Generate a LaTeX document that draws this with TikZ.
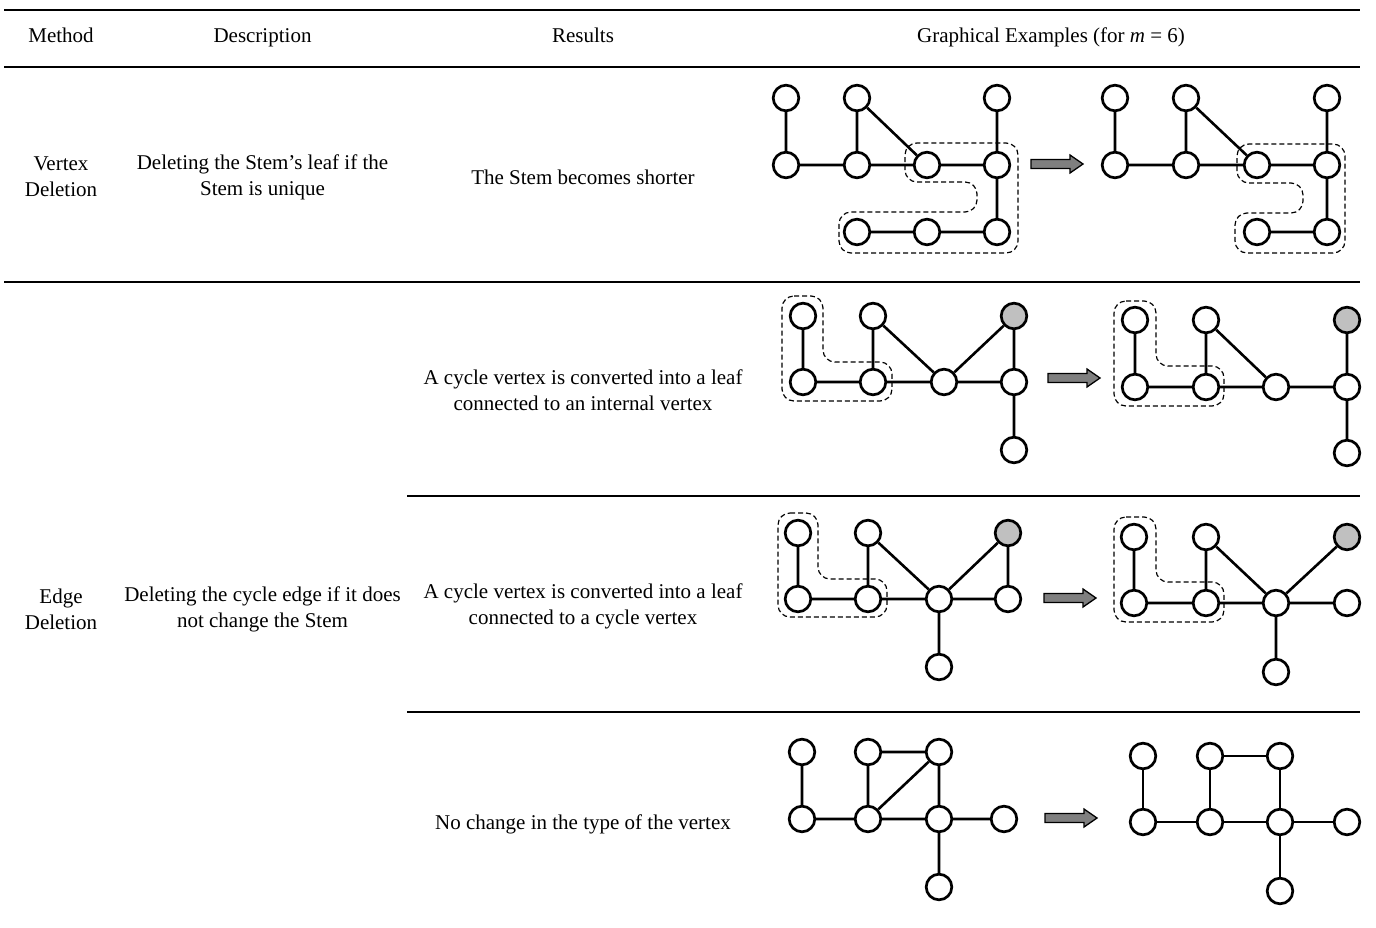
\documentclass[tikz,border=0pt]{standalone}
\usepackage{fontspec}
\setmainfont{Liberation Serif}
\definecolor{leafgray}{HTML}{C0C0C0}
\definecolor{arrowgray}{HTML}{7F7F7F}
\tikzset{
  vtx/.style={circle, draw, fill=white, line width=2.7pt, minimum size=25.6pt, inner sep=0pt},
  gvtx/.style={vtx, fill=leafgray},
  lnk/.style={line width=2.6pt},
  hull/.style={line width=1.2pt, dash pattern=on 5pt off 3pt, rounded corners=12pt},
  rule/.style={line width=2pt},
  txt/.style={align=center, inner sep=0pt},
  blockarrow/.pic={
    \draw[fill=arrowgray, line width=1.3pt, line join=miter]
      (0,-4.5) -- (39,-4.5) -- (39,-9) -- (52,0) -- (39,9) -- (39,4.5) -- (0,4.5) -- cycle;
  }
}
\begin{document}
\begin{tikzpicture}[x=1pt, y=-1pt, font=\fontsize{21}{26}\selectfont]
\useasboundingbox (0,0) rectangle (1376,927);

% table rules
\draw[rule] (4,9.5) -- (1360,9.5);
\draw[rule] (4,66.7) -- (1360,66.7);
\draw[rule] (4,281.7) -- (1360,281.7);
\draw[rule] (407,495.5) -- (1360,495.5);
\draw[rule] (407,711.5) -- (1360,711.5);

% header
\node[txt, anchor=base] (hMethod) at (61,42) {Method};
\node[txt, anchor=base] (hDesc) at (262.5,42) {Description};
\node[txt, anchor=base] (hRes) at (583,42) {Results};
\node[txt, anchor=base] (hGraph) at (1051,42) {Graphical Examples (for \textit{m} = 6)};

% row texts
\node[txt] (mVertex) at (61,177) {Vertex\\Deletion};
\node[txt] (dVertex) at (262.5,177) {Deleting the Stem’s leaf if the\\Stem is unique};
\node[txt] (rVertex) at (583,177) {The Stem becomes shorter};
\node[txt] (mEdge) at (61,609) {Edge\\Deletion};
\node[txt] (dEdge) at (262.5,609) {Deleting the cycle edge if it does\\not change the Stem};
\node[txt] (rEdgeA) at (583,390) {A cycle vertex is converted into a leaf\\connected to an internal vertex};
\node[txt] (rEdgeB) at (583,606) {A cycle vertex is converted into a leaf\\connected to a cycle vertex};
\node[txt] (rEdgeC) at (583,824) {No change in the type of the vertex};

% ---- vertex deletion: before
\draw[hull] (905,182) -- (905,143) -- (1018,143) -- (1018,253) -- (839,253) -- (839,212) -- (977,212) -- (977,182) -- cycle;
\node[vtx] (A1) at (786,98) {};
\node[vtx] (A2) at (857,98) {};
\node[vtx] (A3) at (997,98) {};
\node[vtx] (A4) at (786,165) {};
\node[vtx] (A5) at (857,165) {};
\node[vtx] (A6) at (927,165) {};
\node[vtx] (A7) at (997,165) {};
\node[vtx] (A8) at (857,232) {};
\node[vtx] (A9) at (927,232) {};
\node[vtx] (A10) at (997,232) {};
\draw[lnk] (A1)--(A4) (A2)--(A5) (A2)--(A6) (A3)--(A7) (A4)--(A5) (A5)--(A6) (A6)--(A7) (A7)--(A10) (A8)--(A9) (A9)--(A10);
\pic at (1031,164) {blockarrow};
% ---- vertex deletion: after
\draw[hull] (1237,183) -- (1237,144) -- (1345,144) -- (1345,253) -- (1235,253) -- (1235,213) -- (1303,213) -- (1303,183) -- cycle;
\node[vtx] (B1) at (1115,98) {};
\node[vtx] (B2) at (1186,98) {};
\node[vtx] (B3) at (1327,98) {};
\node[vtx] (B4) at (1115,165) {};
\node[vtx] (B5) at (1186,165) {};
\node[vtx] (B6) at (1257,165) {};
\node[vtx] (B7) at (1327,165) {};
\node[vtx] (B8) at (1257,232) {};
\node[vtx] (B9) at (1327,232) {};
\draw[lnk] (B1)--(B4) (B2)--(B5) (B2)--(B6) (B3)--(B7) (B4)--(B5) (B5)--(B6) (B6)--(B7) (B7)--(B9) (B8)--(B9);

% ---- edge deletion, leaf on internal vertex: before
\draw[hull] (782,296) -- (823,296) -- (823,362) -- (892,362) -- (892,401) -- (782,401) -- cycle;
\node[vtx] (C1) at (803,316) {};
\node[vtx] (C2) at (873,316) {};
\node[gvtx] (C3) at (1014,316) {};
\node[vtx] (C4) at (803,382) {};
\node[vtx] (C5) at (873,382) {};
\node[vtx] (C6) at (944,382) {};
\node[vtx] (C7) at (1014,382) {};
\node[vtx] (C8) at (1014,450) {};
\draw[lnk] (C1)--(C4) (C2)--(C5) (C2)--(C6) (C3)--(C6) (C3)--(C7) (C4)--(C5) (C5)--(C6) (C6)--(C7) (C7)--(C8);
\pic at (1048,378) {blockarrow};
% ---- after
\draw[hull] (1114,301) -- (1156,301) -- (1156,366) -- (1224,366) -- (1224,406) -- (1114,406) -- cycle;
\node[vtx] (D1) at (1135,320) {};
\node[vtx] (D2) at (1206,320) {};
\node[gvtx] (D3) at (1347,320) {};
\node[vtx] (D4) at (1135,387) {};
\node[vtx] (D5) at (1206,387) {};
\node[vtx] (D6) at (1276,387) {};
\node[vtx] (D7) at (1347,387) {};
\node[vtx] (D8) at (1347,453) {};
\draw[lnk] (D1)--(D4) (D2)--(D5) (D2)--(D6) (D3)--(D7) (D4)--(D5) (D5)--(D6) (D6)--(D7) (D7)--(D8);

% ---- edge deletion, leaf on cycle vertex: before
\draw[hull] (778,513) -- (818,513) -- (818,579) -- (887,579) -- (887,617) -- (778,617) -- cycle;
\node[vtx] (E1) at (798,533) {};
\node[vtx] (E2) at (868,533) {};
\node[gvtx] (E3) at (1008,533) {};
\node[vtx] (E4) at (798,599) {};
\node[vtx] (E5) at (868,599) {};
\node[vtx] (E6) at (939,599) {};
\node[vtx] (E7) at (1008,599) {};
\node[vtx] (E8) at (939,667) {};
\draw[lnk] (E1)--(E4) (E2)--(E5) (E2)--(E6) (E3)--(E6) (E3)--(E7) (E4)--(E5) (E5)--(E6) (E6)--(E7) (E6)--(E8);
\pic at (1044,598) {blockarrow};
% ---- after
\draw[hull] (1114,517) -- (1156,517) -- (1156,582) -- (1224,582) -- (1224,622) -- (1114,622) -- cycle;
\node[vtx] (F1) at (1134,537) {};
\node[vtx] (F2) at (1206,537) {};
\node[gvtx] (F3) at (1347,537) {};
\node[vtx] (F4) at (1134,603) {};
\node[vtx] (F5) at (1206,603) {};
\node[vtx] (F6) at (1276,603) {};
\node[vtx] (F7) at (1347,603) {};
\node[vtx] (F8) at (1276,672) {};
\draw[lnk] (F1)--(F4) (F2)--(F5) (F2)--(F6) (F3)--(F6) (F4)--(F5) (F5)--(F6) (F6)--(F7) (F6)--(F8);

% ---- edge deletion, no type change: before
\node[vtx] (G1) at (802,752) {};
\node[vtx] (G2) at (868,752) {};
\node[vtx] (G3) at (939,752) {};
\node[vtx] (G4) at (802,819) {};
\node[vtx] (G5) at (868,819) {};
\node[vtx] (G6) at (939,819) {};
\node[vtx] (G7) at (1004,819) {};
\node[vtx] (G8) at (939,887) {};
\draw[lnk] (G1)--(G4) (G2)--(G5) (G2)--(G3) (G3)--(G5) (G3)--(G6) (G4)--(G5) (G5)--(G6) (G6)--(G7) (G6)--(G8);
\pic at (1045,818) {blockarrow};
% ---- after
\node[vtx] (H1) at (1143,756) {};
\node[vtx] (H2) at (1210,756) {};
\node[vtx] (H3) at (1280,756) {};
\node[vtx] (H4) at (1143,822) {};
\node[vtx] (H5) at (1210,822) {};
\node[vtx] (H6) at (1280,822) {};
\node[vtx] (H7) at (1347,822) {};
\node[vtx] (H8) at (1280,891) {};
\draw[lnk] (H1)--(H4) (H2)--(H5) (H2)--(H3) (H3)--(H6) (H4)--(H5) (H5)--(H6) (H6)--(H7) (H6)--(H8);
\end{tikzpicture}
\end{document}
